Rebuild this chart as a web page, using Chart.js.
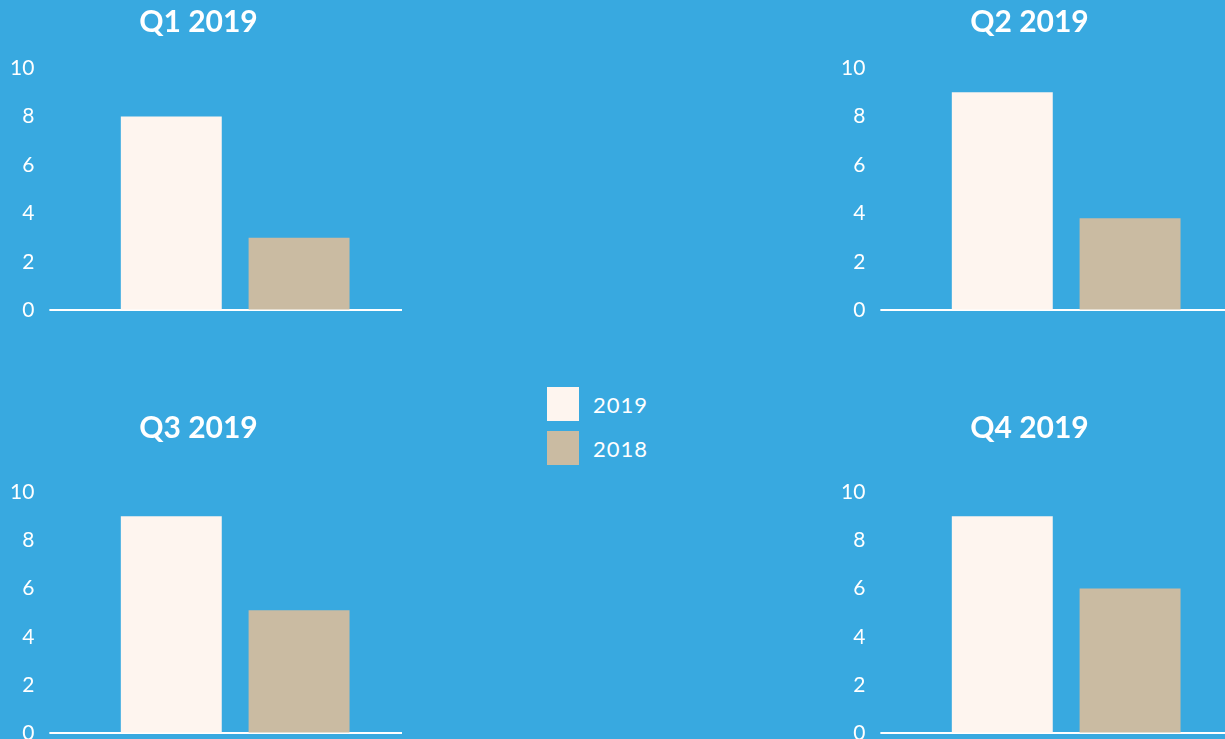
<!DOCTYPE html>
<html>
<head>
<meta charset="utf-8">
<script src="https://cdn.jsdelivr.net/npm/chart.js@4"></script>
<style>
  html, body { margin: 0; padding: 0; }
  body { width: 1225px; height: 739px; background: #38a9e0; overflow: hidden; position: relative; font-family: Lato, sans-serif; }
  canvas { position: absolute; }
  #legend { position: absolute; left: 547px; top: 387px; }
  .item { display: flex; align-items: center; height: 34px; margin-bottom: 10px; }
  .swatch { width: 32px; height: 34px; margin-right: 14px; }
  .label { color: #fff; font-size: 22px; letter-spacing: 1px; }
</style>
</head>
<body>
<canvas id="q1" width="407" height="338" style="left:-5px;top:0"></canvas>
<canvas id="q2" width="407" height="338" style="left:826px;top:0"></canvas>
<canvas id="q3" width="407" height="355" style="left:-5px;top:406px"></canvas>
<canvas id="q4" width="407" height="355" style="left:826px;top:406px"></canvas>
<div id="legend"></div>
<script>
const quarters = ['Q1 2019', 'Q2 2019', 'Q3 2019', 'Q4 2019'];
const years = ['2019', '2018'];
const values2019 = [8, 9, 9, 9];
const values2018 = [3, 3.8, 5.1, 6];
const yTicks = [0, 2, 4, 6, 8, 10];
const colors = ['#fef5ef', '#cabba2'];

function makeChart(id, i, titleGap) {
  return new Chart(document.getElementById(id), {
    type: 'bar',
    data: {
      labels: [quarters[i]],
      datasets: [
        { label: years[0], data: [values2019[i]], backgroundColor: colors[0] },
        { label: years[1], data: [values2018[i]], backgroundColor: colors[1] }
      ]
    },
    options: {
      responsive: false,
      animation: false,
      devicePixelRatio: 1,
      categoryPercentage: 0.766,
      barPercentage: 0.79,
      layout: { padding: 0 },
      plugins: {
        legend: { display: false },
        tooltip: { enabled: false },
        title: {
          display: true,
          text: quarters[i],
          color: '#fff',
          font: { family: 'Lato', size: 30, weight: 'bold' },
          padding: { top: 4, bottom: titleGap }
        }
      },
      scales: {
        x: { display: false },
        y: {
          min: yTicks[0],
          max: yTicks[yTicks.length - 1],
          ticks: { stepSize: 2, color: '#fff', padding: 15, font: { family: 'Lato', size: 21 } },
          grid: {
            color: c => (c.tick && c.tick.value === 0) ? '#fff' : 'rgba(0,0,0,0)',
            lineWidth: 2,
            tickLength: 19
          },
          border: { display: false }
        }
      }
    }
  });
}

makeChart('q1', 0, 28);
makeChart('q2', 1, 28);
makeChart('q3', 2, 46);
makeChart('q4', 3, 46);

const legend = document.getElementById('legend');
years.forEach((y, k) => {
  const item = document.createElement('div');
  item.className = 'item';
  item.innerHTML = '<div class="swatch" style="background:' + colors[k] + '"></div><span class="label">' + y + '</span>';
  legend.appendChild(item);
});
</script>
</body>
</html>
